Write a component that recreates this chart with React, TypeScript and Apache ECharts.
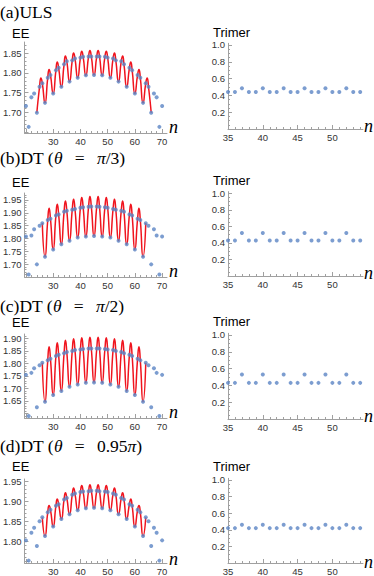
import React, { useEffect, useRef } from "react";
import * as echarts from "echarts";

// ---------- data ----------
const N_EE = [20, 21, 22, 23, 24, 25, 26, 27, 28, 29, 30, 31, 32, 33, 34, 35, 36, 37, 38, 39, 40, 41, 42, 43, 44, 45,
  46, 47, 48, 49, 50, 51, 52, 53, 54, 55, 56, 57, 58, 59, 60, 61, 62, 63, 64, 65, 66, 67, 68, 69, 70];

const EE_A = [1.716, 1.663, 1.738, 1.748, 1.699, 1.765, 1.774, 1.724, 1.788, 1.795, 1.748, 1.807, 1.813, 1.765, 1.822,
  1.830, 1.778, 1.832, 1.837, 1.788, 1.839, 1.841, 1.794, 1.842, 1.842, 1.795, 1.842, 1.842, 1.794, 1.841, 1.839,
  1.788, 1.837, 1.832, 1.778, 1.830, 1.822, 1.765, 1.813, 1.807, 1.748, 1.795, 1.788, 1.724, 1.774, 1.765, 1.699,
  1.748, 1.738, 1.663, 1.716];

const EE_B = [1.808, 1.661, 1.812, 1.836, 1.700, 1.850, 1.860, 1.730, 1.872, 1.877, 1.758, 1.890, 1.894, 1.778, 1.904,
  1.908, 1.792, 1.912, 1.915, 1.804, 1.920, 1.922, 1.808, 1.924, 1.925, 1.810, 1.925, 1.924, 1.808, 1.922, 1.920,
  1.804, 1.915, 1.912, 1.792, 1.908, 1.904, 1.778, 1.894, 1.890, 1.758, 1.877, 1.872, 1.730, 1.860, 1.850, 1.700,
  1.836, 1.812, 1.661, 1.808];

const EE_C = [1.754, 1.590, 1.762, 1.780, 1.625, 1.792, 1.802, 1.647, 1.812, 1.818, 1.674, 1.829, 1.834, 1.690, 1.840,
  1.845, 1.707, 1.849, 1.853, 1.716, 1.855, 1.857, 1.723, 1.859, 1.859, 1.724, 1.859, 1.859, 1.723, 1.857, 1.855,
  1.716, 1.853, 1.849, 1.707, 1.845, 1.840, 1.690, 1.834, 1.829, 1.674, 1.818, 1.812, 1.647, 1.802, 1.792, 1.625,
  1.780, 1.762, 1.590, 1.754];

const EE_D = [1.802, 1.751, 1.821, 1.834, 1.788, 1.850, 1.860, 1.813, 1.873, 1.879, 1.837, 1.889, 1.893, 1.856, 1.905,
  1.909, 1.868, 1.917, 1.920, 1.878, 1.924, 1.925, 1.883, 1.926, 1.927, 1.884, 1.927, 1.926, 1.883, 1.925, 1.924,
  1.878, 1.920, 1.917, 1.868, 1.909, 1.905, 1.856, 1.893, 1.889, 1.837, 1.879, 1.873, 1.813, 1.860, 1.850, 1.788,
  1.834, 1.821, 1.751, 1.802];

// fit ranges (red curve) and the curve's peak heights
const FIT_A = [24, 66];
const FIT_BCD = [26, 64];
const PEAK_N_A = [25.5, 28.5, 31.5, 34.5, 37.5, 40.5, 43.5, 46.5, 49.5, 52.5, 55.5, 58.5, 61.5, 64.5];
const PEAK_A = [1.787, 1.809, 1.828, 1.843, 1.851, 1.855, 1.857, 1.857, 1.855, 1.851, 1.843, 1.828, 1.809, 1.787];
const PEAK_N_BCD = [28.5, 31.5, 34.5, 37.5, 40.5, 43.5, 46.5, 49.5, 52.5, 55.5, 58.5, 61.5];
const PEAK_B = [1.918, 1.933, 1.946, 1.953, 1.960, 1.963, 1.963, 1.960, 1.953, 1.946, 1.933, 1.918];
const PEAK_C = [1.866, 1.882, 1.892, 1.898, 1.902, 1.904, 1.904, 1.902, 1.898, 1.892, 1.882, 1.866];
const PEAK_D = [1.890, 1.906, 1.922, 1.934, 1.940, 1.942, 1.942, 1.940, 1.934, 1.922, 1.906, 1.890];

const N_TRIMER = [35, 36, 37, 38, 39, 40, 41, 42, 43, 44, 45, 46, 47, 48, 49, 50, 51, 52, 53, 54];
const TRIMER_A = [0.44, 0.44, 0.485, 0.44, 0.44, 0.485, 0.44, 0.44, 0.485, 0.44, 0.44, 0.485, 0.44, 0.44, 0.485, 0.44, 0.44, 0.485, 0.44, 0.44];
const TRIMER_B = [0.43, 0.43, 0.52, 0.43, 0.43, 0.52, 0.43, 0.43, 0.52, 0.43, 0.43, 0.52, 0.43, 0.43, 0.52, 0.43, 0.43, 0.52, 0.43, 0.43];
const TRIMER_C = [0.43, 0.43, 0.53, 0.43, 0.43, 0.53, 0.43, 0.43, 0.53, 0.43, 0.43, 0.53, 0.43, 0.43, 0.53, 0.43, 0.43, 0.53, 0.43, 0.43];
const TRIMER_D = [0.42, 0.42, 0.46, 0.42, 0.42, 0.46, 0.42, 0.42, 0.46, 0.42, 0.42, 0.46, 0.42, 0.42, 0.46, 0.42, 0.42, 0.46, 0.42, 0.42];

// tick labels
const EE_X_LABELS = [30, 40, 50, 60, 70];
const EE_X_TICKS = [20, 30, 40, 50, 60, 70];
const EE_Y_LABELS_A = [1.70, 1.75, 1.80, 1.85];
const EE_Y_LABELS_B = [1.70, 1.75, 1.80, 1.85, 1.90, 1.95];
const EE_Y_LABELS_C = [1.65, 1.70, 1.75, 1.80, 1.85, 1.90];
const EE_Y_LABELS_D = [1.80, 1.85, 1.90, 1.95];
const TRIMER_X_LABELS = [35, 40, 45, 50];
const TRIMER_Y_LABELS = [0.2, 0.4, 0.6, 0.8, 1.0];

// texts
const SP = "\u2002\u2009";
const TITLES = [
  "{r|(a)ULS}",
  `{r|(b)DT (}{i|θ}{r|${SP}=${SP}}{i|π}{r|/3)}`,
  `{r|(c)DT (}{i|θ}{r|${SP}=${SP}}{i|π}{r|/2)}`,
  `{r|(d)DT (}{i|θ}{r|${SP}=${SP}}{r|0.95}{i|π}{r|)}`,
];
const EE_LABEL = "EE";
const TRIMER_LABEL = "Trimer";
const N_LABEL = "n";

// ---------- styling / layout ----------
const BLUE = "#5b85c4";
const RED = "#f0141e";
const AXIS = "#a0a0a0";
const LABEL = "#333333";
const SANS = "'Liberation Sans', Arial, sans-serif";
const SERIF = "'Liberation Serif', 'Times New Roman', serif";

const LEFT_X = { left: 21, width: 146, min: 19.46, max: 71.8 };
const RIGHT_X = { left: 228, width: 135, min: 35, max: 54.4 };

const ROWS = [
  { title: 12, label: 33, trimerLabel: 32,
    ee: { top: 42, height: 91, min: 1.6474, max: 1.8787 },
    tr: { top: 43.3, height: 85.7 } },
  { title: 157.5, label: 182, trimerLabel: 180,
    ee: { top: 193, height: 84, min: 1.651, max: 1.977 },
    tr: { top: 191.6, height: 84.4 } },
  { title: 305.5, label: 322, trimerLabel: 321.5,
    ee: { top: 334, height: 84, min: 1.582, max: 1.917 },
    tr: { top: 333.3, height: 85.7 } },
  { title: 445.5, label: 466.5, trimerLabel: 466.5,
    ee: { top: 479, height: 86, min: 1.745, max: 1.9566 },
    tr: { top: 478.3, height: 86.3 } },
];

function stepValues(min: number, max: number, step: number, exclude: number[]) {
  const out: number[] = [];
  const start = Math.ceil(min / step - 1e-9);
  const end = Math.floor(max / step + 1e-9);
  for (let k = start; k <= end; k++) {
    const v = +(k * step).toFixed(4);
    if (!exclude.some((e) => Math.abs(e - v) < 1e-6)) out.push(v);
  }
  return out;
}

function buildCurve(ns: number[], vals: number[], fit: number[], pn: number[], pv: number[]) {
  const pts: number[][] = [];
  ns.forEach((n, i) => {
    if (n >= fit[0] && n <= fit[1]) pts.push([n, vals[i]]);
  });
  pn.forEach((n, i) => pts.push([n, pv[i]]));
  return pts.sort((a, b) => a[0] - b[0]);
}

function buildOption() {
  const grids: any[] = [];
  const xAxes: any[] = [];
  const yAxes: any[] = [];
  const series: any[] = [];
  const graphics: any[] = [];

  const addPanel = (
    rect: { left: number; top: number; width: number; height: number },
    xr: number[], yr: number[],
    xLabels: number[], xTicks: number[], xMinorStep: number,
    yLabels: number[], yTicks: number[], yMinorStep: number,
    yDigits: number
  ) => {
    const gi = grids.length;
    grids.push({ left: rect.left, top: rect.top, width: rect.width, height: rect.height, containLabel: false });
    const common = { type: "value", gridIndex: gi, splitLine: { show: false } };
    const xMinor = stepValues(xr[0], xr[1], xMinorStep, xTicks);
    const yMinor = stepValues(yr[0], yr[1], yMinorStep, yTicks);
    xAxes.push({
      ...common, position: "bottom", min: xr[0], max: xr[1],
      axisLine: { show: true, onZero: false, lineStyle: { color: AXIS, width: 1 } },
      axisTick: { show: true, inside: true, length: 4, lineStyle: { color: AXIS }, customValues: xTicks },
      axisLabel: { show: true, customValues: xLabels, formatter: (v: number) => String(v), color: LABEL,
        fontSize: 9.5, fontFamily: SANS, margin: 3 },
    });
    xAxes.push({
      ...common, position: "bottom", min: xr[0], max: xr[1],
      axisLine: { show: false, onZero: false },
      axisTick: { show: true, inside: true, length: 2, lineStyle: { color: AXIS }, customValues: xMinor },
      axisLabel: { show: false },
    });
    yAxes.push({
      ...common, position: "left", min: yr[0], max: yr[1],
      axisLine: { show: true, onZero: false, lineStyle: { color: AXIS, width: 1 } },
      axisTick: { show: true, inside: true, length: 4, lineStyle: { color: AXIS }, customValues: yTicks },
      axisLabel: { show: true, customValues: yLabels, formatter: (v: number) => v.toFixed(yDigits), color: LABEL,
        fontSize: 9.5, fontFamily: SANS, margin: 3 },
    });
    yAxes.push({
      ...common, position: "left", min: yr[0], max: yr[1],
      axisLine: { show: false, onZero: false },
      axisTick: { show: true, inside: true, length: 2, lineStyle: { color: AXIS }, customValues: yMinor },
      axisLabel: { show: false },
    });
    return 2 * gi;
  };

  const eeSets = [
    { vals: EE_A, fit: FIT_A, pn: PEAK_N_A, pv: PEAK_A, yl: EE_Y_LABELS_A, tr: TRIMER_A },
    { vals: EE_B, fit: FIT_BCD, pn: PEAK_N_BCD, pv: PEAK_B, yl: EE_Y_LABELS_B, tr: TRIMER_B },
    { vals: EE_C, fit: FIT_BCD, pn: PEAK_N_BCD, pv: PEAK_C, yl: EE_Y_LABELS_C, tr: TRIMER_C },
    { vals: EE_D, fit: FIT_BCD, pn: PEAK_N_BCD, pv: PEAK_D, yl: EE_Y_LABELS_D, tr: TRIMER_D },
  ];

  ROWS.forEach((row, r) => {
    const set = eeSets[r];
    // left EE panel
    const eeTicks = stepValues(row.ee.min, row.ee.max, 0.05, []);
    const li = addPanel(
      { left: LEFT_X.left, top: row.ee.top, width: LEFT_X.width, height: row.ee.height },
      [LEFT_X.min, LEFT_X.max], [row.ee.min, row.ee.max],
      EE_X_LABELS, EE_X_TICKS, 2,
      set.yl, eeTicks, 0.01, 2
    );
    series.push({
      type: "line", xAxisIndex: li, yAxisIndex: li, z: 2,
      data: buildCurve(N_EE, set.vals, set.fit, set.pn, set.pv),
      smooth: 0.6, showSymbol: false, symbol: "none",
      lineStyle: { color: RED, width: 1.5 },
    });
    series.push({
      type: "scatter", xAxisIndex: li, yAxisIndex: li, z: 3,
      data: N_EE.map((n, i) => [n, set.vals[i]]),
      symbol: "circle", symbolSize: 4, itemStyle: { color: BLUE },
    });

    // right trimer panel
    const ri = addPanel(
      { left: RIGHT_X.left, top: row.tr.top, width: RIGHT_X.width, height: row.tr.height },
      [RIGHT_X.min, RIGHT_X.max], [0, 1.02],
      TRIMER_X_LABELS, [35, 40, 45, 50], 1,
      TRIMER_Y_LABELS, [0.2, 0.4, 0.6, 0.8, 1.0], 0.05, 1
    );
    series.push({
      type: "scatter", xAxisIndex: ri, yAxisIndex: ri, z: 3,
      data: N_TRIMER.map((n, i) => [n, set.tr[i]]),
      symbol: "circle", symbolSize: 4, itemStyle: { color: BLUE },
    });

    // texts
    graphics.push({
      type: "text", x: 0, y: row.title,
      style: {
        text: TITLES[r], fill: "#000", fontSize: 17.5, fontFamily: SERIF, verticalAlign: "middle", align: "left",
        rich: {
          r: { fontSize: 17.5, fontFamily: SERIF, fill: "#000" },
          i: { fontSize: 17.5, fontFamily: SERIF, fontStyle: "italic", fill: "#000" },
        },
      },
    });
    graphics.push({
      type: "text", x: 12, y: row.label,
      style: { text: EE_LABEL, fill: "#000", fontSize: 13, fontFamily: SANS, verticalAlign: "middle", align: "left" },
    });
    graphics.push({
      type: "text", x: 213, y: row.trimerLabel,
      style: { text: TRIMER_LABEL, fill: "#000", fontSize: 13, fontFamily: SANS, verticalAlign: "middle", align: "left" },
    });
    const eeBottom = row.ee.top + row.ee.height;
    const trBottom = row.tr.top + row.tr.height;
    graphics.push({
      type: "text", x: 169, y: eeBottom + 3,
      style: { text: N_LABEL, fill: "#000", fontSize: 18, fontFamily: SERIF, fontStyle: "italic", verticalAlign: "bottom", align: "left" },
    });
    graphics.push({
      type: "text", x: 364, y: trBottom + 6,
      style: { text: N_LABEL, fill: "#000", fontSize: 18, fontFamily: SERIF, fontStyle: "italic", verticalAlign: "bottom", align: "left" },
    });
  });

  return {
    animation: false,
    backgroundColor: "#ffffff",
    grid: grids,
    xAxis: xAxes,
    yAxis: yAxes,
    series,
    graphic: graphics,
  };
}

export default function App() {
  const ref = useRef<HTMLDivElement>(null);
  useEffect(() => {
    if (!ref.current) return;
    const chart = echarts.init(ref.current, undefined, { renderer: "svg" });
    chart.setOption(buildOption() as any);
    return () => chart.dispose();
  }, []);
  return (
    <div
      ref={ref}
      style={{ position: "absolute", left: 0, top: 0, width: 374, height: 576, background: "#fff" }}
    />
  );
}
